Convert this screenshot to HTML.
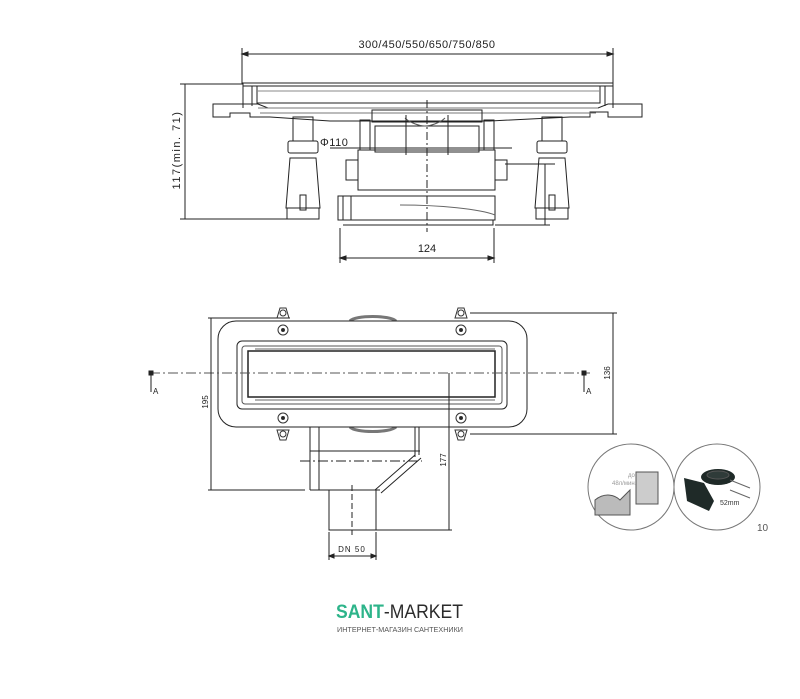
<!DOCTYPE html>
<html><head><meta charset="utf-8"><style>
html,body{margin:0;padding:0;background:#fff;}
svg{display:block;}
text{font-family:"Liberation Sans",sans-serif;}
</style></head><body>
<svg width="800" height="699" viewBox="0 0 800 699" xmlns="http://www.w3.org/2000/svg">
<g stroke="#222" fill="none" stroke-width="1">
<line x1="242" y1="48" x2="242" y2="84"/><line x1="613" y1="48" x2="613" y2="84"/>
<line x1="242" y1="54" x2="613" y2="54"/>
<path d="M242 54l6-2v4zM613 54l-6-2v4z" fill="#222"/>
<line x1="180" y1="84" x2="245" y2="84"/><line x1="180" y1="219" x2="290" y2="219"/>
<line x1="185" y1="84" x2="185" y2="219"/>
<rect x="243" y="83" width="370" height="3" fill="#fff"/>
<rect x="257" y="86" width="343" height="17"/>
<line x1="257" y1="91" x2="600" y2="91" stroke="#888"/>
<path d="M243 83v25M252 86v20M605 86v20M613 83v25"/>
<path d="M213 104h45l10 4h330l10-4h34v13h-34v-5h-18v5h-20l-80 4h-160l-60-4h-20v-4h-20v4h-17z"/>
<path d="M258 108h340M260 113h336" stroke="#777"/>
<g>
<rect x="293" y="117" width="20" height="24"/><rect x="288" y="141" width="30" height="12" rx="2"/>
<path d="M290 158h26l4 50h-34z"/><rect x="287" y="208" width="32" height="11"/><path d="M300 195v15h6v-15z"/>
<rect x="542" y="117" width="20" height="24"/><rect x="537" y="141" width="30" height="12" rx="2"/>
<path d="M539 158h26l4 50h-34z"/><rect x="536" y="208" width="32" height="11"/><path d="M549 195v15h6v-15z"/>
</g>
<path d="M372 110h110v12h-110z"/>
<rect x="375" y="126" width="104" height="26"/>
<path d="M358 150h137v40h-137z"/>
<rect x="346" y="160" width="12" height="20"/><rect x="495" y="160" width="12" height="20"/>
<rect x="360" y="120" width="10" height="30"/><rect x="484" y="120" width="10" height="30"/>
<path d="M405 118c5 5 15 8 20 8M445 118c-5 5-15 8-20 8" stroke="#555"/>
<line x1="406" y1="115" x2="406" y2="155"/><line x1="448" y1="115" x2="448" y2="155"/>
<rect x="338" y="196" width="157" height="24"/>
<path d="M343 196v24M351 196v24M360 220h130" />
<path d="M343 225h150v-5"/>
<path d="M400 205c40 0 80 4 95 10" stroke="#666"/>
<line x1="427" y1="100" x2="427" y2="232" stroke-dasharray="8 3 2 3"/>
<line x1="330" y1="148" x2="512" y2="148"/>
<line x1="505" y1="164" x2="555" y2="164"/>
<line x1="545" y1="164" x2="545" y2="225"/>
<line x1="495" y1="225" x2="550" y2="225"/>
<line x1="340" y1="228" x2="340" y2="263"/><line x1="494" y1="228" x2="494" y2="263"/>
<line x1="340" y1="258" x2="494" y2="258"/>
<path d="M340 258l6-2v4zM494 258l-6-2v4z" fill="#222"/>

<path d="M350 321c5-6 40-6 46 0M350 427c5 6 40 6 46 0" stroke="#777" stroke-width="3"/>
<rect x="218" y="321" width="309" height="106" rx="18" fill="#fff"/>
<rect x="237" y="341" width="270" height="68" rx="5"/>
<rect x="242" y="346" width="260" height="58" rx="3" stroke="#555"/>
<rect x="248" y="351" width="247" height="46" stroke-width="1.5"/>
<path d="M255 349h240M255 400h240" stroke="#666"/>
<line x1="150" y1="373" x2="590" y2="373" stroke-dasharray="10 3 2 3" stroke="#555"/>
<rect x="149" y="371" width="4" height="4" fill="#222"/><rect x="582" y="371" width="4" height="4" fill="#222"/>
<line x1="151" y1="375" x2="151" y2="392"/><line x1="584" y1="375" x2="584" y2="392"/>
<g stroke="#333">
<path d="M277 318l3-10h6l3 10z"/><circle cx="283" cy="313" r="3"/><circle cx="283" cy="330" r="5"/><circle cx="283" cy="330" r="1.5" fill="#222"/>
<path d="M455 318l3-10h6l3 10z"/><circle cx="461" cy="313" r="3"/><circle cx="461" cy="330" r="5"/><circle cx="461" cy="330" r="1.5" fill="#222"/>
<path d="M277 430l3 10h6l3-10z"/><circle cx="283" cy="434" r="3"/><circle cx="283" cy="418" r="5"/><circle cx="283" cy="418" r="1.5" fill="#222"/>
<path d="M455 430l3 10h6l3-10z"/><circle cx="461" cy="434" r="3"/><circle cx="461" cy="418" r="5"/><circle cx="461" cy="418" r="1.5" fill="#222"/>
</g>
<path d="M310 427v63M319 427v63M310 451h110M415 427v30M419 427v28"/>
<path d="M415 455l-40 35M421 458l-40 35"/>
<line x1="300" y1="461" x2="422" y2="461" stroke-dasharray="10 3 2 3"/>
<path d="M310 490h70"/>
<rect x="329" y="490" width="47" height="40"/>
<line x1="352" y1="485" x2="352" y2="535" stroke-dasharray="6 3"/>
<line x1="208" y1="318" x2="290" y2="318"/><line x1="208" y1="490" x2="305" y2="490"/>
<line x1="211" y1="318" x2="211" y2="490"/>
<line x1="470" y1="313" x2="617" y2="313"/><line x1="470" y1="434" x2="617" y2="434"/>
<line x1="613" y1="313" x2="613" y2="434"/>
<line x1="449" y1="373" x2="449" y2="530"/><line x1="376" y1="530" x2="452" y2="530"/>
<line x1="329" y1="532" x2="329" y2="560"/><line x1="376" y1="532" x2="376" y2="560"/>
<line x1="329" y1="556" x2="376" y2="556"/>
<path d="M329 556l5-2v4zM376 556l-5-2v4z" fill="#222"/>
</g>
<circle cx="631" cy="487" r="43" fill="#fff" stroke="#777"/>
<path d="M595 500c10-8 20-5 25 0l10-10v25h-35z" fill="#bbb" stroke="#555"/>
<rect x="636" y="472" width="22" height="32" fill="#ccc" stroke="#555"/>
<text x="628" y="477" font-size="6" fill="#999">до</text>
<text x="612" y="485" font-size="6" fill="#999">48л/мин.</text>
<circle cx="717" cy="487" r="43" fill="#fff" stroke="#777"/>
<path d="M684 478l20 5 10 18-5 10-22-10z" fill="#1f2a28"/>
<ellipse cx="718" cy="477" rx="17" ry="8" fill="#1f2a28"/>
<ellipse cx="718" cy="475" rx="11" ry="4" fill="#2f3b39" stroke="#555"/>
<path d="M730 480l20 8M730 490l20 8" stroke="#666"/>
<text x="720" y="505" font-size="7" fill="#333">52mm</text>
<text x="757" y="531" font-size="10" fill="#555">10</text>
<g fill="#222">
<text x="427" y="48" font-size="11" text-anchor="middle" letter-spacing="0.5">300/450/550/650/750/850</text>
<text x="0" y="0" font-size="11" text-anchor="middle" letter-spacing="1.5" transform="translate(180,150) rotate(-90)">117(min. 71)</text>
<text x="320" y="146" font-size="11" letter-spacing="0.5">Φ110</text>
<text x="427" y="252" font-size="11" text-anchor="middle">124</text>
<text x="0" y="0" font-size="8" text-anchor="middle" transform="translate(208,402) rotate(-90)">195</text>
<text x="0" y="0" font-size="8" text-anchor="middle" transform="translate(610,373) rotate(-90)">136</text>
<text x="0" y="0" font-size="8" text-anchor="middle" transform="translate(446,460) rotate(-90)">177</text>
<text x="153" y="394" font-size="8">A</text>
<text x="586" y="394" font-size="8">A</text>
<text x="352" y="552" font-size="8" text-anchor="middle" letter-spacing="1">DN 50</text>
</g>
<text x="336" y="618" font-size="19" fill="#2db48a" font-weight="bold" textLength="127" lengthAdjust="spacingAndGlyphs">SANT<tspan fill="#2b2b2b" font-weight="normal">-MARKET</tspan></text>
<text x="337" y="632" font-size="7.3" fill="#555" textLength="126" lengthAdjust="spacingAndGlyphs">ИНТЕРНЕТ-МАГАЗИН САНТЕХНИКИ</text>
</svg>
</body></html>
